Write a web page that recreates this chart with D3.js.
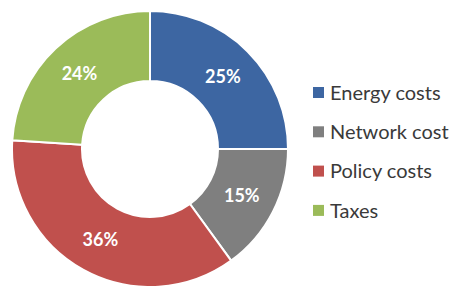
<!DOCTYPE html>
<html>
<head>
<meta charset="utf-8">
<script src="https://cdn.jsdelivr.net/npm/d3@7"></script>
<style>
  body { margin: 0; background: #fff; }
  svg { display: block; }
</style>
</head>
<body>
<script>
const categories = ['Energy costs', 'Network cost', 'Policy costs', 'Taxes'];
const shares = [25, 15, 36, 24];
const colors = ['#3d66a2', '#7f7f7f', '#c0504d', '#9bbb59'];

const width = 454;
const height = 286;
const cx = 150, cy = 149;
const outerR = 138, innerR = 68;

const svg = d3.select('body')
    .append('svg')
    .attr('width', width)
    .attr('height', height);

const g = svg.append('g')
    .attr('transform', `translate(${cx},${cy})`);

const pie = d3.pie()
    .value(d => d)
    .sort(null);

const arc = d3.arc()
    .innerRadius(innerR)
    .outerRadius(outerR);

const slices = pie(shares);

g.selectAll('path')
    .data(slices)
    .enter()
    .append('path')
    .attr('d', arc)
    .attr('fill', (d, i) => colors[i])
    .attr('stroke', '#fff')
    .attr('stroke-width', 2);

// percentage labels
g.selectAll('text')
    .data(slices)
    .enter()
    .append('text')
    .attr('transform', d => `translate(${arc.centroid(d)})`)
    .attr('dy', '0.36em')
    .attr('text-anchor', 'middle')
    .style('font-family', 'Lato, "Open Sans", sans-serif')
    .style('font-weight', 'bold')
    .style('font-size', '18px')
    .style('fill', '#fff')
    .text(d => d.data + '%');

// legend
const legend = svg.append('g')
    .attr('transform', 'translate(313,92.5)');

const row = legend.selectAll('g')
    .data(categories)
    .enter()
    .append('g')
    .attr('transform', (d, i) => `translate(0,${i * 39.3})`);

row.append('rect')
    .attr('x', 0)
    .attr('y', -5.5)
    .attr('width', 11)
    .attr('height', 11)
    .attr('fill', (d, i) => colors[i]);

row.append('text')
    .attr('x', 17)
    .attr('dy', '0.36em')
    .style('font-family', 'Lato, "Open Sans", sans-serif')
    .style('font-size', '20px')
    .style('fill', '#3a3a3a')
    .text(d => d);
</script>
</body>
</html>
